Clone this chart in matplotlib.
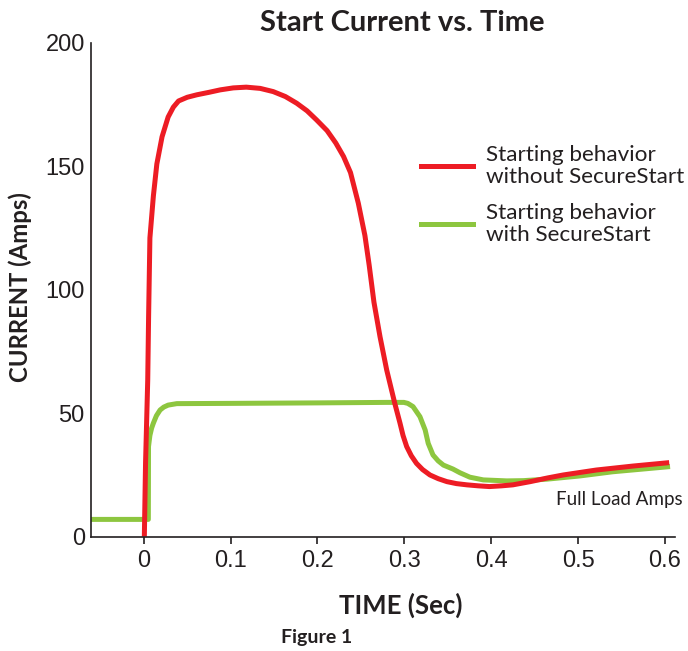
import matplotlib
matplotlib.use("Agg")
import matplotlib.pyplot as plt
from matplotlib.lines import Line2D

# ---- data ----
t_without = [0.0006, 0.002, 0.0045, 0.0055, 0.007, 0.011, 0.015, 0.021, 0.028, 0.034,
             0.040, 0.050, 0.061, 0.075, 0.088, 0.103, 0.118, 0.134, 0.149, 0.163,
             0.176, 0.188, 0.199, 0.211, 0.221, 0.230, 0.238, 0.247, 0.2546, 0.2595,
             0.2650, 0.272, 0.2797, 0.289, 0.295, 0.2985, 0.3027, 0.308, 0.314, 0.321,
             0.3295, 0.339, 0.349, 0.360, 0.372, 0.385, 0.398, 0.412, 0.425, 0.445,
             0.465, 0.483, 0.521, 0.563, 0.605]
i_without = [0, 30, 63.5, 89, 121, 138, 151, 162, 170, 174,
             176.5, 178, 179, 180, 181, 181.8, 182.1, 181.6, 180.3, 178.3,
             175.6, 172.5, 168.8, 164.5, 159.5, 154, 147.5, 135.1, 122, 110,
             95, 81, 67.5, 54, 46, 41, 36.5, 32.8, 29.7, 27.2,
             25, 23.5, 22.3, 21.5, 21, 20.6, 20.3, 20.6, 21, 22.3,
             23.8, 25, 27, 28.6, 30]

t_with = [-0.0608, 0.0052, 0.0054, 0.007, 0.009, 0.011, 0.0145, 0.0187, 0.023, 0.028,
          0.038, 0.1, 0.2, 0.28, 0.2995, 0.304, 0.310, 0.318, 0.324, 0.3275,
          0.333, 0.339, 0.345, 0.356, 0.364, 0.3755, 0.391, 0.418, 0.437, 0.464,
          0.502, 0.540, 0.606]
i_with = [7, 7, 36.5, 41, 44, 46, 49, 51.3, 52.5, 53.3,
          53.9, 54.0, 54.2, 54.4, 54.4, 54.0, 52.7, 48.6, 43.2, 37.8,
          33.1, 30.7, 29, 27.4, 25.9, 24.1, 23, 22.6, 22.7, 23.3,
          24.6, 26.3, 28.4]

x_ticks = [0, 0.1, 0.2, 0.3, 0.4, 0.5, 0.6]
x_ticklabels = ["0", "0.1", "0.2", "0.3", "0.4", "0.5", "0.6"]
y_ticks = [0, 50, 100, 150, 200]
y_ticklabels = ["0", "50", "100", "150", "200"]

labels = ["Starting behavior\nwithout SecureStart", "Starting behavior\nwith SecureStart"]
RED = "#ED1C24"
GREEN = "#8DC63F"
HUM = "Lato"
NUM = "Liberation Sans"
TXT = "#231F20"

fig = plt.figure(figsize=(6.88, 6.51), dpi=100)
ax = fig.add_axes([0.1323, 0.1756, 0.981 - 0.1323, 0.934 - 0.1756])

ax.plot(t_with, i_with, color=GREEN, lw=3.6, solid_capstyle="butt", solid_joinstyle="round")
ax.plot(t_without, i_without, color=RED, lw=3.6, solid_capstyle="butt", solid_joinstyle="round")

ax.set_xlim(-0.0608, 0.6116)
ax.set_ylim(0, 200)
ax.spines["top"].set_visible(False)
ax.spines["right"].set_visible(False)
for s in ("left", "bottom"):
    ax.spines[s].set_linewidth(1.2)
    ax.spines[s].set_color(TXT)

ax.set_xticks(x_ticks)
ax.set_xticklabels(x_ticklabels)
ax.set_yticks(y_ticks)
ax.set_yticklabels(y_ticklabels)
ax.tick_params(axis="x", direction="out", length=5, width=1.2, color=TXT, pad=4.5,
               labelsize=17, labelcolor=TXT)
ax.tick_params(axis="y", length=0, pad=4.5, labelsize=17, labelcolor=TXT)
for lab in ax.get_xticklabels() + ax.get_yticklabels():
    lab.set_fontfamily(NUM)

fig.text(402 / 688, 1 - 23 / 651, "Start Current vs. Time", ha="center", va="center",
         family=HUM, weight="bold", fontsize=21, color=TXT)
fig.text(401 / 688, 1 - 605 / 651, "TIME (Sec)", ha="center", va="center",
         family=HUM, weight="bold", fontsize=18.5, color=TXT)
fig.text(317 / 688, 1 - 638 / 651, "Figure 1", ha="center", va="center",
         family=HUM, weight="bold", fontsize=14, color=TXT)
fig.text(20 / 688, 1 - 287 / 651, "CURRENT (Amps)", ha="center", va="center",
         rotation=90, family=HUM, weight="bold", fontsize=17.2, color=TXT)
fig.text(683 / 688, 1 - 499 / 651, "Full Load Amps", ha="right", va="center",
         family=HUM, fontsize=13.5, color=TXT)

handles = [Line2D([], [], color=RED, lw=3.6), Line2D([], [], color=GREEN, lw=3.6)]
leg = ax.legend(handles, labels, loc="upper left", bbox_to_anchor=(421 / 688, 1 - 145 / 651),
                bbox_transform=fig.transFigure, frameon=False, handlelength=2.3,
                handletextpad=0.6, labelspacing=0.75, borderpad=0, borderaxespad=0,
                prop={"family": HUM, "size": 16.2})
for t in leg.get_texts():
    t.set_color(TXT)
    t.set_linespacing(1.1)

fig.savefig("out.png", dpi=100)
